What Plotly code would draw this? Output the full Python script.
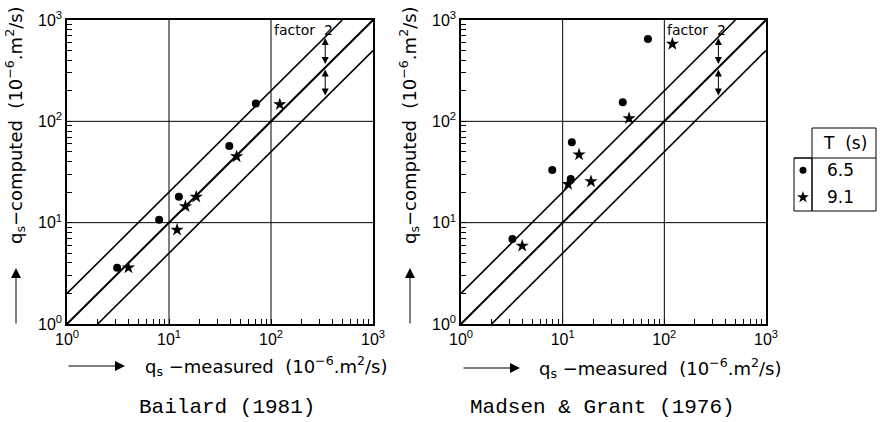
import math
import plotly.graph_objects as go

# ---- data -------------------------------------------------------------
# Bailard (1981): computed vs measured transport, two wave periods
bailard_t65_measured = [3.1, 8.0, 12.5, 39, 71]
bailard_t65_computed = [3.6, 10.7, 18, 57, 150]
bailard_t91_measured = [4.0, 12.0, 14.5, 18.5, 46, 122]
bailard_t91_computed = [3.6, 8.5, 14.5, 18, 45, 147]

# Madsen & Grant (1976)
madsen_t65_measured = [3.2, 7.9, 12.0, 12.3, 39, 69]
madsen_t65_computed = [6.9, 33, 27, 62, 154, 650]
madsen_t91_measured = [4.0, 11.3, 14.5, 19, 45, 120]
madsen_t91_computed = [5.9, 24, 47, 25.5, 107, 580]

periods = ["6.5", "9.1"]
decades = [1, 10, 100, 1000]
decade_labels = ["10<sup>0</sup>", "10<sup>1</sup>", "10<sup>2</sup>", "10<sup>3</sup>"]
factor = 2
arrow_x = 340

W, H = 880, 422
FONT = "Liberation Sans"
LABEL_FONT = "DejaVu Sans"

def px(v):
    return v / W

def py(v):
    return 1 - v / H

# tick positions: 1..9 per decade, labels only at decades
tickvals, ticktext = [], []
for i, d in enumerate(decades[:-1]):
    for m in range(1, 10):
        tickvals.append(d * m)
        ticktext.append(decade_labels[i] if m == 1 else "")
tickvals.append(decades[-1])
ticktext.append(decade_labels[-1])

fig = go.Figure()

panels = [
    ("x", "y", bailard_t65_measured, bailard_t65_computed,
     bailard_t91_measured, bailard_t91_computed),
    ("x2", "y2", madsen_t65_measured, madsen_t65_computed,
     madsen_t91_measured, madsen_t91_computed),
]

lo, hi = decades[0], decades[-1]
for xa, ya, cx, cy, sx, sy in panels:
    # decade grid
    for g in decades[1:-1]:
        fig.add_trace(go.Scatter(x=[g, g], y=[lo, hi], xaxis=xa, yaxis=ya, mode="lines",
                                 line=dict(color="black", width=1), hoverinfo="skip"))
        fig.add_trace(go.Scatter(x=[lo, hi], y=[g, g], xaxis=xa, yaxis=ya, mode="lines",
                                 line=dict(color="black", width=1), hoverinfo="skip"))
    # perfect agreement and factor-2 band
    fig.add_trace(go.Scatter(x=[lo, hi], y=[lo, hi], xaxis=xa, yaxis=ya, mode="lines",
                             line=dict(color="black", width=2), hoverinfo="skip"))
    fig.add_trace(go.Scatter(x=[lo, hi / factor], y=[lo * factor, hi], xaxis=xa, yaxis=ya,
                             mode="lines", line=dict(color="black", width=1.6), hoverinfo="skip"))
    fig.add_trace(go.Scatter(x=[lo * factor, hi], y=[lo, hi / factor], xaxis=xa, yaxis=ya,
                             mode="lines", line=dict(color="black", width=1.6), hoverinfo="skip"))
    # observations
    fig.add_trace(go.Scatter(x=cx, y=cy, xaxis=xa, yaxis=ya, mode="markers",
                             marker=dict(symbol="circle", size=8, color="black"), name="6.5"))
    fig.add_trace(go.Scatter(x=sx, y=sy, xaxis=xa, yaxis=ya, mode="markers",
                             marker=dict(symbol="star", size=10, color="black"), name="9.1"))

# legend markers on a small helper axis
fig.add_trace(go.Scatter(x=[0.5], y=[0.77], xaxis="x3", yaxis="y3", mode="markers",
                         marker=dict(symbol="circle", size=7, color="black")))
fig.add_trace(go.Scatter(x=[0.5], y=[0.26], xaxis="x3", yaxis="y3", mode="markers",
                         marker=dict(symbol="star", size=9, color="black")))

def log_axis(domain, anchor):
    return dict(type="log", range=[0, 3], domain=domain, anchor=anchor,
                tickvals=tickvals, ticktext=ticktext, ticks="inside", ticklen=5,
                tickwidth=1, tickcolor="black", showgrid=False, zeroline=False,
                showline=True, linecolor="black", linewidth=1.5, mirror=True,
                automargin=False,
                tickfont=dict(family=FONT, size=16, color="black"))

ydom = [py(324), py(20)]
layout = dict(
    width=W, height=H, margin=dict(l=0, r=0, t=0, b=0, pad=0, autoexpand=False),
    paper_bgcolor="white", plot_bgcolor="white", showlegend=False,
    xaxis=log_axis([px(67), px(373)], "y"),
    yaxis=log_axis(ydom, "x"),
    xaxis2=log_axis([px(461), px(766)], "y2"),
    yaxis2=log_axis(ydom, "x2"),
    xaxis3=dict(domain=[px(794), px(812)], range=[0, 1], visible=False, anchor="y3"),
    yaxis3=dict(domain=[py(211), py(158)], range=[0, 1], visible=False, anchor="x3"),
)
fig.update_layout(**layout)

def text_ann(x, y, text, size=18, family=LABEL_FONT, **kw):
    d = dict(xref="paper", yref="paper", x=px(x), y=py(y), text=text, showarrow=False,
             xanchor="center", yanchor="middle",
             font=dict(family=family, size=size, color="black"))
    d.update(kw)
    return d

def arrow_ann(x, y, ax, ay):
    return dict(xref="paper", yref="paper", x=px(x), y=py(y), ax=ax, ay=ay, text="",
                showarrow=True, arrowhead=2, arrowsize=2, arrowwidth=1, arrowcolor="black")

ann = []
for xa, ya in [("x", "y"), ("x2", "y2")]:
    lx = math.log10(arrow_x)
    # factor-2 double arrows
    ann.append(dict(xref=xa, yref=ya, x=lx, y=math.log10(arrow_x * factor) - 0.01,
                    axref=xa, ayref=ya, ax=lx, ay=math.log10(arrow_x) + 0.02,
                    showarrow=True, arrowhead=2, arrowside="end+start", arrowsize=1.4,
                    arrowwidth=1, arrowcolor="black", text=""))
    ann.append(dict(xref=xa, yref=ya, x=lx, y=math.log10(arrow_x) - 0.02,
                    axref=xa, ayref=ya, ax=lx, ay=math.log10(arrow_x / factor) + 0.01,
                    showarrow=True, arrowhead=2, arrowside="end+start", arrowsize=1.4,
                    arrowwidth=1, arrowcolor="black", text=""))
    ann.append(dict(xref=xa, yref=ya, x=2.0, y=3, xanchor="left", yanchor="top",
                    xshift=1, yshift=0, text="factor  2", showarrow=False,
                    font=dict(family=LABEL_FONT, size=14, color="black")))

x_title = "q<sub>s</sub> −measured  (10<sup>−6</sup>.m<sup>2</sup>/s)"
y_title = "q<sub>s</sub>−computed  (10<sup>−6</sup>.m<sup>2</sup>/s)"
for cx_title, x_arrow0, cy_title, yx in [(266, 67, 366, 15), (660, 462, 368, 409)]:
    ann.append(text_ann(cx_title, cy_title, x_title))
    ann.append(arrow_ann(x_arrow0 + 58, cy_title, -58, 0))
    ann.append(text_ann(yx, 125, y_title, textangle=-90))
    ann.append(arrow_ann(yx + 1, 268, 0, 57))

for label, cxp in [("Bailard (1981)", 227), ("Madsen & Grant (1976)", 602)]:
    ann.append(text_ann(cxp, 407, label, size=21, family="Liberation Mono"))

# legend table text
ann.append(text_ann(845, 143, "T  (s)", size=17))
for lbl, yy in zip(periods, [170, 197]):
    ann.append(text_ann(840, yy, lbl, size=17))

shapes = [
    dict(type="rect", xref="paper", yref="paper", x0=px(812), x1=px(876), y0=py(211), y1=py(128),
         line=dict(color="black", width=1)),
    dict(type="line", xref="paper", yref="paper", x0=px(794), x1=px(876), y0=py(158), y1=py(158),
         line=dict(color="black", width=1)),
    dict(type="rect", xref="paper", yref="paper", x0=px(794), x1=px(812), y0=py(211), y1=py(158),
         line=dict(color="black", width=1)),
]
fig.update_layout(annotations=ann, shapes=shapes)

fig.write_html("out.html")
